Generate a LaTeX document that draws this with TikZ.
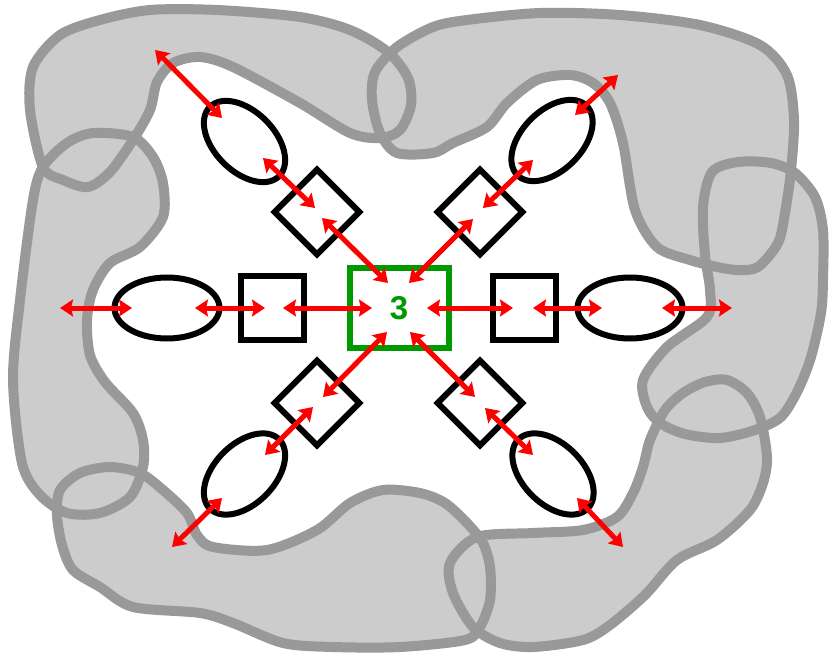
\documentclass[tikz,border=0pt]{standalone}
\usepackage{fontspec}
\setmainfont{Liberation Sans}
\usetikzlibrary{shapes.geometric,arrows.meta}
\definecolor{blobfillc}{RGB}{204,204,204}
\definecolor{bloblinec}{RGB}{153,153,153}
\definecolor{boxgreen}{RGB}{0,153,0}
\newcommand\BlobTL{plot[smooth cycle] coordinates {(43,167) (30,110) (33,67) (60,35) (100,20) (150,10) (217,10) (300,17) (350,30) (388,52) (408,78) (411,105) (400,130) (380,138) (350,133) (300,103) (233,67) (200,57) (173,63) (157,82) (150,110) (133,140) (110,172) (88,187) (63,180)}}
\newcommand\BlobTR{plot[smooth cycle] coordinates {(380,133) (372,100) (375,72) (397,47) (433,27) (467,20) (540,13) (620,15) (700,25) (760,45) (787,75) (794,120) (791,170) (785,213) (778,243) (758,267) (738,270) (717,267) (690,260) (657,247) (635,210) (623,143) (610,103) (593,83) (570,75) (537,80) (507,103) (487,127) (453,143) (433,153) (397,153)}}
\newcommand\BlobL{plot[smooth cycle] coordinates {(43,167) (67,143) (93,133) (133,137) (153,157) (163,183) (163,217) (140,247) (110,263) (93,290) (87,320) (90,355) (105,382) (133,413) (143,440) (143,467) (130,497) (100,513) (67,513) (40,495) (22,463) (13,380) (20,300) (33,200)}}
\newcommand\BlobBL{plot[smooth cycle] coordinates {(60,490) (80,473) (110,467) (140,473) (163,490) (187,513) (197,535) (213,547) (267,550) (317,530) (350,503) (383,490) (420,493) (445,503) (467,523) (483,543) (490,567) (490,600) (480,627) (465,640) (400,647) (333,647) (283,643) (233,623) (200,613) (133,607) (100,587) (73,570) (62,545) (57,515)}}
\newcommand\BlobBR{plot[smooth cycle] coordinates {(450,563) (477,537) (533,533) (583,530) (617,517) (633,493) (643,467) (650,440) (665,410) (683,393) (705,382) (727,380) (747,393) (760,417) (767,457) (763,483) (750,510) (717,540) (677,560) (645,595) (610,625) (583,640) (533,647) (500,643) (473,627) (453,593)}}
\newcommand\BlobR{plot[smooth cycle] coordinates {(703,207) (712,172) (738,162) (771,163) (795,173) (815,197) (823,230) (823,280) (821,313) (811,357) (798,390) (781,417) (755,430) (720,438) (685,434) (660,423) (647,407) (643,380) (667,347) (707,317) (710,290) (705,255)}}
\tikzset{
  blobfill/.style={fill=blobfillc},
  blobline/.style={draw=bloblinec, line width=10pt},
  sqbox/.style={draw, line width=6pt, minimum width=63pt, minimum height=64pt, inner sep=0pt},
  diabox/.style={draw, line width=6pt, minimum width=60pt, minimum height=60pt, inner sep=0pt, rotate=45},
  ellh/.style={draw, ellipse, line width=6pt, minimum width=105pt, minimum height=61pt, inner sep=0pt},
  elld/.style={draw, ellipse, line width=6pt, minimum width=98pt, minimum height=60pt, inner sep=0pt},
  centerbox/.style={draw=boxgreen, line width=6pt, minimum width=99pt, minimum height=80pt, inner sep=0pt, text=boxgreen, font=\fontsize{33}{33}\selectfont\bfseries},
  arr/.style={red, line width=5pt, {Stealth[length=13pt,width=17pt,inset=2pt]}-{Stealth[length=13pt,width=17pt,inset=2pt]}}
}
\begin{document}
\begin{tikzpicture}[x=1pt,y=-1pt]
\useasboundingbox[fill=white] (0,0) rectangle (838,658);
% blobs: fills first, then outlines
\fill[blobfill] \BlobTL;
\fill[blobfill] \BlobTR;
\fill[blobfill] \BlobL;
\fill[blobfill] \BlobBL;
\fill[blobfill] \BlobBR;
\fill[blobfill] \BlobR;
\draw[blobline] \BlobTL;
\draw[blobline] \BlobTR;
\draw[blobline] \BlobL;
\draw[blobline] \BlobBL;
\draw[blobline] \BlobBR;
\draw[blobline] \BlobR;
% nodes
\node[centerbox] (c) at (399,308) {3};
\node[sqbox] (sl) at (272.5,308) {};
\node[sqbox] (sr) at (524.5,308) {};
\node[ellh] (el) at (167,308) {};
\node[ellh] (er) at (630,308) {};
\node[diabox] (dul) at (317,212) {};
\node[diabox] (dur) at (480,212) {};
\node[diabox] (dll) at (317,403) {};
\node[diabox] (dlr) at (480,403) {};
\node[elld, rotate=-45] (eul) at (244.5,141.5) {};
\node[elld, rotate=45] (eur) at (552,140.5) {};
\node[elld, rotate=45] (ell) at (244.5,474) {};
\node[elld, rotate=-45] (elr) at (553,474) {};
% arrow end points
\coordinate (h1a) at (60,308);  \coordinate (h1b) at (132,308);
\coordinate (h2a) at (195,308); \coordinate (h2b) at (265,308);
\coordinate (h3a) at (283,308); \coordinate (h3b) at (372,308);
\coordinate (h4a) at (427,308); \coordinate (h4b) at (513,308);
\coordinate (h5a) at (533,308); \coordinate (h5b) at (602,308);
\coordinate (h6a) at (662,308); \coordinate (h6b) at (732,308);
\coordinate (ul1a) at (155,50);  \coordinate (ul1b) at (222,118);
\coordinate (ul2a) at (263,158); \coordinate (ul2b) at (315,208);
\coordinate (ul3a) at (322,218); \coordinate (ul3b) at (388,283);
\coordinate (ur1a) at (618,75);  \coordinate (ur1b) at (575,115);
\coordinate (ur2a) at (533,160); \coordinate (ur2b) at (483,208);
\coordinate (ur3a) at (473,219); \coordinate (ur3b) at (409,283);
\coordinate (ll1a) at (172,547); \coordinate (ll1b) at (222,498);
\coordinate (ll2a) at (265,455); \coordinate (ll2b) at (313,407);
\coordinate (ll3a) at (323,397); \coordinate (ll3b) at (387,332);
\coordinate (lr1a) at (623,547); \coordinate (lr1b) at (577,498);
\coordinate (lr2a) at (533,455); \coordinate (lr2b) at (485,408);
\coordinate (lr3a) at (475,397); \coordinate (lr3b) at (410,332);
% arrows
\foreach \p in {h1,h2,h3,h4,h5,h6,ul1,ul2,ul3,ur1,ur2,ur3,ll1,ll2,ll3,lr1,lr2,lr3}
  \draw[arr] (\p a) -- (\p b);
\end{tikzpicture}
\end{document}
